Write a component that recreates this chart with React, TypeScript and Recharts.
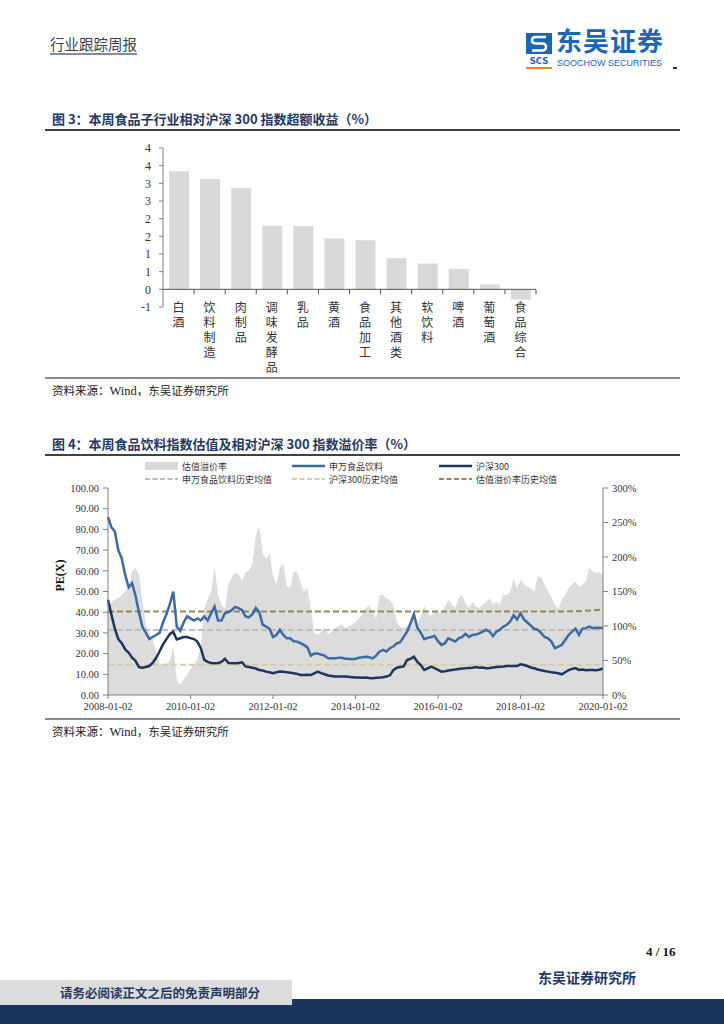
import React from 'react';
import { BarChart, Bar, XAxis, YAxis, ReferenceLine, ComposedChart, Area, Line } from 'recharts';

const CN = '"Noto Sans CJK SC", "Noto Sans", sans-serif';
const SERIF = '"Liberation Serif", "DejaVu Serif", serif';
const NAVY = '#1f3864';

// ---------- Figure 3 data ----------
const subIndustries = ['白酒', '饮料制造', '肉制品', '调味发酵品', '乳品', '黄酒', '食品加工', '其他酒类', '软饮料', '啤酒', '葡萄酒', '食品综合'];
const excessReturn = [3.34, 3.12, 2.87, 1.8, 1.79, 1.44, 1.39, 0.88, 0.73, 0.58, 0.14, -0.29];
const excessTicks = [-0.5, 0, 0.5, 1, 1.5, 2, 2.5, 3, 3.5, 4];

// ---------- Figure 4 data (monthly, 2008-01 .. 2020-01) ----------
const dateTickIndex = [0, 24, 48, 72, 96, 120, 144];
const dateTickLabels = ['2008-01-02', '2010-01-02', '2012-01-02', '2014-01-02', '2016-01-02', '2018-01-02', '2020-01-02'];
const foodPE = [
  86, 81, 79, 70, 66, 58, 52, 54, 48, 40, 33, 30,
  27, 28, 29, 30, 35, 39, 44, 50, 33, 31, 35, 38,
  37, 36, 37, 36, 38, 36, 39.5, 42.7, 36, 36, 39.5, 40,
  41, 42.5, 42, 41, 38, 37.5, 39, 42, 40, 34, 33, 32,
  28, 29, 31.5, 29, 27.4, 27.4, 26, 25.8, 25, 24.2, 23, 19,
  20, 20, 19.5, 19, 17.7, 17.7, 17.7, 18, 18, 17.5, 17.5, 17.3,
  17.5, 18, 18.2, 18.5, 18.2, 17.7, 19, 21, 21.8, 21, 22.6, 23.4,
  25, 25.5, 28, 30.6, 34.7, 39, 32.5, 30, 27, 27.6, 28, 28.5,
  26, 24.2, 25, 27.4, 26.6, 25.8, 27.4, 28, 29.5, 28, 29, 29.2,
  29.8, 30.6, 31.5, 30.6, 28.5, 30.6, 31.5, 33, 33.9, 35.5, 38.5, 36.5,
  39.5, 36.5, 35, 33.5, 32, 31.5, 30, 28, 27.4, 25.8, 22.6, 23.4,
  24.2, 26.6, 29, 30.6, 32, 29, 32, 32.3, 33, 32.3, 32.5, 32.5,
  32.3,
];
const hs300PE = [
  46, 38.7, 32, 27, 25, 22, 20.5, 18, 16.5, 13.5, 13.2, 13.5,
  14, 15.5, 18, 21, 24.5, 27, 29.5, 30.5, 26.8, 27.4, 28, 28,
  27.5, 27, 25.8, 22.6, 17, 16, 15.5, 15.3, 15.5, 16, 17.5, 15.5,
  15.3, 15.3, 15.5, 15.8, 13.8, 13.5, 13.2, 12.8, 12.1, 11.8, 11.3, 11,
  10.5, 11, 11.3, 11.2, 11, 10.8, 10.5, 10.2, 9.7, 9.7, 9.8, 9.7,
  10.5, 11.3, 10.6, 10, 9.4, 9.2, 8.9, 8.9, 8.9, 8.9, 8.8, 8.6,
  8.4, 8.4, 8.3, 8.4, 8.2, 8.1, 8.3, 8.4, 8.6, 8.9, 9.5, 12,
  13.2, 13.5, 13.8, 16.9, 17.5, 18.5, 16, 14.5, 12.1, 12.9, 13.7, 13,
  12.1, 11.3, 11.5, 11.8, 12.1, 12.3, 12.6, 12.8, 12.9, 13.1, 13.2, 13.5,
  13.2, 13.3, 12.9, 13, 13.3, 13.5, 13.7, 13.8, 14, 14, 14, 14,
  14.8, 14.5, 14, 13.3, 12.9, 12.3, 12, 11.6, 11.3, 11, 10.8, 10.5,
  10, 11, 12, 12.6, 13, 12.1, 12.3, 12, 12.1, 12.1, 12, 12.2,
  12.9,
];
const premium = [
  126, 135, 138, 140, 145, 150, 155, 179, 184, 174, 135, 102,
  90, 80, 62, 45, 45, 45, 50, 70, 22, 15, 22, 29,
  38, 44, 52, 70, 125, 140, 150, 185, 145, 130, 125, 160,
  170, 177, 175, 165, 178, 180, 190, 230, 245, 205, 196, 205,
  172, 160, 184, 190, 158, 155, 179, 178, 164, 150, 155, 125,
  90, 87, 92, 97, 88, 92, 97, 100, 102, 97, 100, 102,
  106, 111, 118, 126, 130, 120, 110, 145, 145, 140, 138, 130,
  106, 99, 97, 100, 104, 114, 102, 115, 130, 118, 115, 121,
  119, 120, 128, 138, 131, 126, 140, 145, 133, 126, 135, 128,
  126, 131, 135, 140, 131, 135, 131, 145, 145, 150, 168, 155,
  167, 160, 157, 155, 150, 172, 171, 160, 150, 142, 131, 125,
  138, 145, 155, 160, 164, 157, 160, 164, 185, 179, 177, 178,
  172,
];
const premiumMeanIndex = [0, 60, 120, 132, 138, 141, 144];
const premiumMeanValue = [121, 121, 121, 121, 121.8, 122.8, 124];
const foodPEMean = 31.4;
const hs300PEMean = 14.6;
const peTicks = [0, 10, 20, 30, 40, 50, 60, 70, 80, 90, 100];
const premiumTicks = [0, 50, 100, 150, 200, 250, 300];

const barData = subIndustries.map((name, i) => ({ name, v: excessReturn[i] }));
const lineData = foodPE.map((food, i) => {
  const k = premiumMeanIndex.indexOf(i);
  return { m: i, food, hs: hs300PE[i], prem: premium[i], premMean: k >= 0 ? premiumMeanValue[k] : null };
});

const fmtRound = (v: number) => String(Math.sign(v) * Math.round(Math.abs(v)));

const CatTick = (props: any) => {
  const { x, y, payload } = props;
  const chars = Array.from(String(payload.value));
  return (
    <g>
      {chars.map((c, i) => (
        <text key={i} x={x} y={y - 1 + i * 15} textAnchor="middle" dominantBaseline="central"
          fontSize={12} fill="#333" fontFamily={CN}>{c}</text>
      ))}
    </g>
  );
};

const ZeroAxis = (props: any) => {
  const { x1, x2, y1 } = props;
  const n = subIndustries.length;
  const step = (x2 - x1) / n;
  return (
    <g>
      <line x1={x1} x2={x2} y1={y1} y2={y1} stroke="#555" strokeWidth={1} />
      {subIndustries.map((_, i) => (
        <line key={i} x1={x1 + (i + 1) * step} x2={x1 + (i + 1) * step} y1={y1} y2={y1 + 5} stroke="#555" strokeWidth={1} />
      ))}
    </g>
  );
};

const abs = (s: React.CSSProperties): React.CSSProperties => ({ position: 'absolute', ...s });

const LegendItem = ({ x, y, kind, color, label }: any) => (
  <div style={abs({ left: x, top: y - 6, height: 12, display: 'flex', alignItems: 'center' })}>
    <svg width={33} height={12}>
      {kind === 'rect' && <rect x={0} y={2} width={33} height={8} fill={color} />}
      {kind === 'line' && <line x1={0} x2={33} y1={6} y2={6} stroke={color} strokeWidth={2.5} />}
      {kind === 'dash' && <line x1={0} x2={33} y1={6} y2={6} stroke={color} strokeWidth={2} strokeDasharray="5 2.5" />}
    </svg>
    <span style={{ marginLeft: 4, fontSize: 9, fontFamily: CN, color: '#333', whiteSpace: 'nowrap' }}>{label}</span>
  </div>
);

export default function App() {
  return (
    <div style={abs({ left: 0, top: 0, width: 724, height: 1024, background: '#fff', overflow: 'hidden' })}>
      {/* Header */}
      <div style={abs({ left: 50, top: 35, fontSize: 14.5, fontFamily: CN, color: '#3a3f50', lineHeight: '17px', borderBottom: '2px solid #7f8ea8', paddingBottom: 1 })}>行业跟踪周报</div>
      <svg style={abs({ left: 524, top: 31 })} width={30} height={42}>
        <rect x={2} y={2} width={26} height={21} fill="#1a66b8" />
        <path d="M22 6 H12 Q8 6 8 9.5 Q8 12.5 12 12.5 H18 Q22 12.5 22 16 Q22 19.5 18 19.5 H8" stroke="#fff" strokeWidth={2.6} fill="none" />
        <text x={15} y={33} textAnchor="middle" fontSize={8.5} fontWeight={700} fill="#1a66b8" fontFamily='"DejaVu Sans", sans-serif'>SCS</text>
        <rect x={2} y={36} width={26} height={2} fill="#f08a24" />
      </svg>
      <div style={abs({ left: 556, top: 27, fontSize: 26, fontWeight: 700, fontFamily: CN, color: '#1a66b8', lineHeight: '26px', letterSpacing: 1 })}>东吴证券</div>
      <div style={abs({ left: 557, top: 58, fontSize: 9, fontFamily: '"Liberation Sans", sans-serif', color: '#1a66b8', lineHeight: '10px', letterSpacing: 0 })}>SOOCHOW SECURITIES</div>
      <div style={abs({ left: 673, top: 67, width: 4, height: 1.5, background: '#333' })} />

      {/* Figure 3 */}
      <div style={abs({ left: 52, top: 110, fontSize: 13, fontWeight: 700, fontFamily: CN, color: NAVY, lineHeight: '18px', whiteSpace: 'nowrap' })}>图 3：本周食品子行业相对沪深 300 指数超额收益（%）</div>
      <div style={abs({ left: 45, top: 129, width: 635, height: 1.5, background: '#404040' })} />
      <div style={abs({ left: 0, top: 140 })}>
        <BarChart width={724} height={245} data={barData} margin={{ top: 8, right: 188, bottom: 8, left: 123 }}>
          <XAxis dataKey="name" axisLine={false} tickLine={false} tickSize={0} tickMargin={0} interval={0} height={70} tick={<CatTick />} />
          <YAxis domain={[-0.5, 4]} ticks={excessTicks} width={40} tickFormatter={fmtRound} interval={0}
            axisLine={{ stroke: '#7f7f7f' }} tickLine={{ stroke: '#7f7f7f' }} tickSize={4} tickMargin={8}
            tick={{ fontSize: 12, fill: '#333', fontFamily: SERIF }} />
          <Bar dataKey="v" fill="#d9d9d9" barSize={20} isAnimationActive={false} />
          <ReferenceLine y={0} stroke="#555" shape={ZeroAxis} />
        </BarChart>
      </div>
      <div style={abs({ left: 45, top: 377, width: 635, height: 1.5, background: '#8a8a8a' })} />
      <div style={abs({ left: 52, top: 382, fontSize: 11.5, fontFamily: CN, color: '#222', lineHeight: '16px', whiteSpace: 'nowrap' })}>资料来源：<span style={{ fontFamily: SERIF, fontSize: 12.5 }}>Wind</span>，东吴证券研究所</div>

      {/* Figure 4 */}
      <div style={abs({ left: 52, top: 435, fontSize: 13, fontWeight: 700, fontFamily: CN, color: NAVY, lineHeight: '18px', whiteSpace: 'nowrap' })}>图 4：本周食品饮料指数估值及相对沪深 300 指数溢价率（%）</div>
      <div style={abs({ left: 45, top: 454, width: 635, height: 1.5, background: '#404040' })} />
      <LegendItem x={145} y={466} kind="rect" color="#d9d9d9" label="估值溢价率" />
      <LegendItem x={292} y={466} kind="line" color="#3c6aa4" label="申万食品饮料" />
      <LegendItem x={439} y={466} kind="line" color="#1b365f" label="沪深300" />
      <LegendItem x={145} y={479} kind="dash" color="#bdbdbd" label="申万食品饮料历史均值" />
      <LegendItem x={292} y={479} kind="dash" color="#d8cca0" label="沪深300历史均值" />
      <LegendItem x={439} y={479} kind="dash" color="#978a50" label="估值溢价率历史均值" />
      <div style={abs({ left: 0, top: 480 })}>
        <ComposedChart width={724} height={240} data={lineData} margin={{ top: 8, right: 71, bottom: 0, left: 58 }}>
          <XAxis dataKey="m" type="number" domain={[0, 144]} ticks={dateTickIndex} interval={0}
            tickFormatter={(v: number) => dateTickLabels[dateTickIndex.indexOf(v)]}
            axisLine={{ stroke: '#7f7f7f' }} tickLine={{ stroke: '#7f7f7f' }} tickSize={4} tickMargin={4} height={25}
            tick={{ fontSize: 10.5, fill: '#333', fontFamily: SERIF }} />
          <YAxis yAxisId="left" domain={[0, 100]} ticks={peTicks} interval={0} width={50}
            tickFormatter={(v: number) => v.toFixed(2)} axisLine={{ stroke: '#7f7f7f' }} tickLine={{ stroke: '#7f7f7f' }}
            tickSize={5} tickMargin={4} tick={{ fontSize: 10.5, fill: '#333', fontFamily: SERIF }}
            label={{ value: 'PE(X)', angle: -90, position: 'insideLeft', offset: 2, style: { fontSize: 12, fontWeight: 700, fill: '#111', fontFamily: SERIF } }} />
          <YAxis yAxisId="right" orientation="right" domain={[0, 300]} ticks={premiumTicks} interval={0} width={50}
            tickFormatter={(v: number) => `${v}%`} axisLine={{ stroke: '#7f7f7f' }} tickLine={{ stroke: '#7f7f7f' }}
            tickSize={5} tickMargin={4} tick={{ fontSize: 10.5, fill: '#333', fontFamily: SERIF }} />
          <Area yAxisId="right" dataKey="prem" type="linear" fill="#dcdcdc" fillOpacity={1} stroke="none" isAnimationActive={false} />
          <ReferenceLine yAxisId="left" y={foodPEMean} stroke="#bdbdbd" strokeWidth={2} strokeDasharray="6 3" />
          <ReferenceLine yAxisId="left" y={hs300PEMean} stroke="#d8cca0" strokeWidth={2} strokeDasharray="6 3" />
          <Line yAxisId="right" dataKey="premMean" type="monotone" connectNulls stroke="#978a50" strokeWidth={2} strokeDasharray="6 3" dot={false} isAnimationActive={false} />
          <Line yAxisId="left" dataKey="food" type="linear" stroke="#3c6aa4" strokeWidth={2.5} dot={false} isAnimationActive={false} />
          <Line yAxisId="left" dataKey="hs" type="linear" stroke="#1b365f" strokeWidth={2.5} dot={false} isAnimationActive={false} />
        </ComposedChart>
      </div>
      <div style={abs({ left: 45, top: 718, width: 635, height: 1.5, background: '#8a8a8a' })} />
      <div style={abs({ left: 52, top: 723, fontSize: 11.5, fontFamily: CN, color: '#222', lineHeight: '16px', whiteSpace: 'nowrap' })}>资料来源：<span style={{ fontFamily: SERIF, fontSize: 12.5 }}>Wind</span>，东吴证券研究所</div>

      {/* Footer */}
      <div style={abs({ left: 646, top: 943, fontSize: 13, fontWeight: 700, fontFamily: SERIF, color: '#111', lineHeight: '18px', whiteSpace: 'nowrap' })}>4 / 16</div>
      <div style={abs({ left: 538, top: 968, fontSize: 14, fontWeight: 700, fontFamily: CN, color: NAVY, lineHeight: '18px', whiteSpace: 'nowrap' })}>东吴证券研究所</div>
      <div style={abs({ left: 0, top: 999, width: 724, height: 25, background: '#1a365d' })} />
      <div style={abs({ left: 0, top: 980, width: 292, height: 25, background: '#dcdcdc' })} />
      <div style={abs({ left: 60, top: 984, fontSize: 12.5, fontWeight: 700, fontFamily: CN, color: NAVY, lineHeight: '17px', whiteSpace: 'nowrap' })}>请务必阅读正文之后的免责声明部分</div>
    </div>
  );
}
